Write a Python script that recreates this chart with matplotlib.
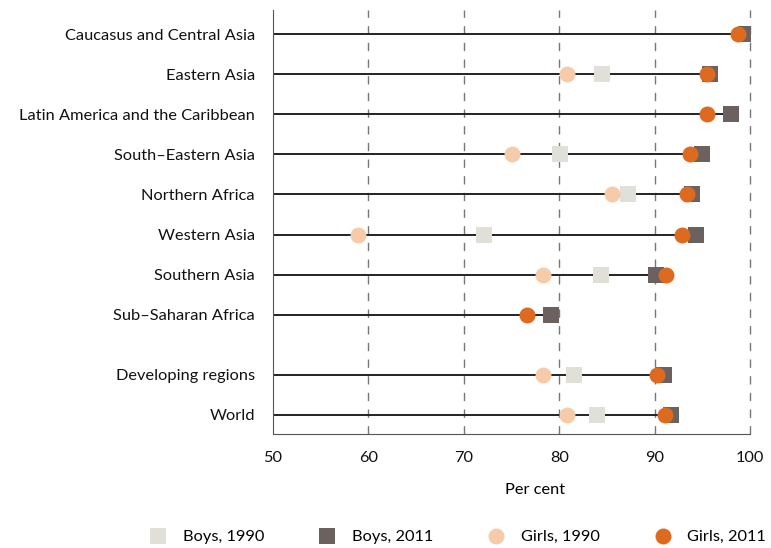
import matplotlib
matplotlib.use('Agg')
import matplotlib.pyplot as plt
import numpy as np
from matplotlib.lines import Line2D

plt.rcParams['font.family'] = ['Lato', 'DejaVu Sans']

regions = ['Caucasus and Central Asia', 'Eastern Asia', 'Latin America and the Caribbean',
           'South\u2013Eastern Asia', 'Northern Africa', 'Western Asia', 'Southern Asia',
           'Sub\u2013Saharan Africa', 'Developing regions', 'World']
boys_1990 = [np.nan, 84.5, np.nan, 80.1, 87.2, 72.1, 84.4, np.nan, 81.6, 84.0]
boys_2011 = [99.6, 95.8, 98.0, 95.0, 93.9, 94.3, 90.1, 79.1, 91.0, 91.7]
girls_1990 = [np.nan, 80.8, np.nan, 75.0, 85.5, 58.9, 78.3, np.nan, 78.3, 80.8]
girls_2011 = [98.7, 95.5, 95.5, 93.7, 93.4, 92.9, 91.2, 76.6, 90.3, 91.1]

ypos = [9.5, 8.5, 7.5, 6.5, 5.5, 4.5, 3.5, 2.5, 1, 0]

c_b90 = '#e0e0d8'
c_b11 = '#6b6260'
c_g90 = '#f5cbaa'
c_g11 = '#dd6a1f'

fs = 11.8

fig = plt.figure(figsize=(7.71, 5.48), dpi=100)
ax = fig.add_axes([273/771, 1-434/548, (750-273)/771, (434-10)/548])

for i, y in enumerate(ypos):
    vals = [v for v in (boys_1990[i], boys_2011[i], girls_1990[i], girls_2011[i]) if not np.isnan(v)]
    ax.plot([50, max(vals)], [y, y], color='#222222', lw=1.4, zorder=2)

ms = 11.5
ax.plot(boys_1990, ypos, 's', color=c_b90, ms=ms, mew=0, ls='none', zorder=3)
ax.plot(girls_1990, ypos, 'o', color=c_g90, ms=ms, mew=0, ls='none', zorder=3)
ax.plot(boys_2011, ypos, 's', color=c_b11, ms=ms, mew=0, ls='none', zorder=4)
ax.plot(girls_2011, ypos, 'o', color=c_g11, ms=ms, mew=0, ls='none', zorder=5)

ax.set_xlim(50, 100)
ax.set_ylim(-0.475, 10.1)
ax.set_xticks([50, 60, 70, 80, 90, 100])
ax.set_yticks(ypos)
ax.set_yticklabels(regions)
for g in [60, 70, 80, 90, 100]:
    ax.axvline(g, color='#777777', lw=1.0, ls=(0, (6, 6)), zorder=1, clip_on=False)

ax.tick_params(axis='both', length=0, labelsize=fs, colors='#111111')
ax.tick_params(axis='y', pad=13)
ax.tick_params(axis='x', pad=12)
for s in ['top', 'right']:
    ax.spines[s].set_visible(False)
ax.spines['left'].set_color('#555555')
ax.spines['bottom'].set_color('#555555')

fig.text(535/771, 1-490/548, 'Per cent', ha='center', va='center', fontsize=fs)

handles = [
    Line2D([], [], marker='s', color=c_b90, ms=ms, mew=0, ls='none'),
    Line2D([], [], marker='s', color=c_b11, ms=ms, mew=0, ls='none'),
    Line2D([], [], marker='o', color=c_g90, ms=ms, mew=0, ls='none'),
    Line2D([], [], marker='o', color=c_g11, ms=ms, mew=0, ls='none'),
]
fig.legend(handles, ['Boys, 1990', 'Boys, 2011', 'Girls, 1990', 'Girls, 2011'],
           loc='center', bbox_to_anchor=(458/771, 1-537/548), ncol=4, frameon=False,
           fontsize=fs, handlelength=1.0, handletextpad=1.0, columnspacing=3.35,
           borderpad=0, borderaxespad=0)

fig.savefig('out.png', dpi=100)
